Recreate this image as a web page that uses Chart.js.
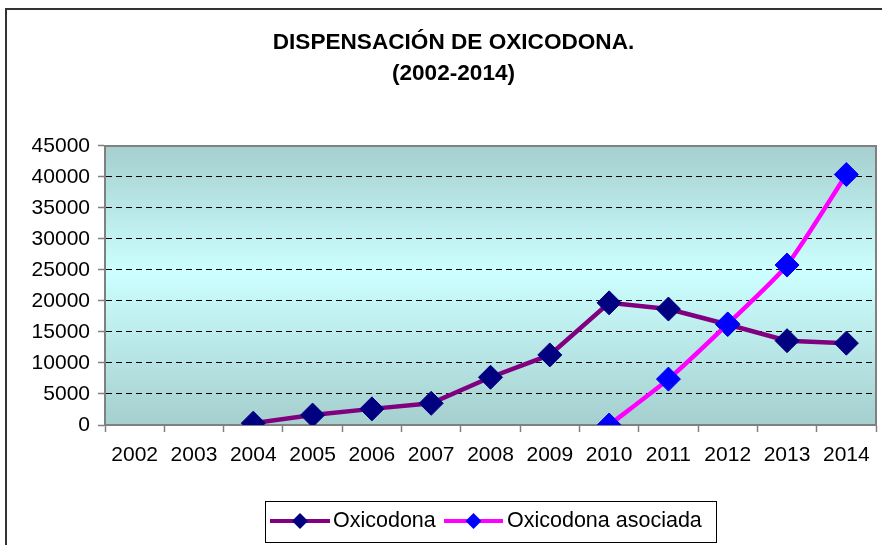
<!DOCTYPE html>
<html>
<head>
<meta charset="utf-8">
<script src="https://cdn.jsdelivr.net/npm/chart.js@4"></script>
<style>
  html, body { margin: 0; padding: 0; background: #fff; overflow: hidden; }
  #wrap { width: 882px; height: 545px; position: relative; overflow: hidden; }
  #chart { position: absolute; left: 0; top: 0; }
</style>
</head>
<body>
<div id="wrap"><canvas id="chart" width="889" height="545"></canvas></div>
<script>
const years = ['2002', '2003', '2004', '2005', '2006', '2007', '2008', '2009', '2010', '2011', '2012', '2013', '2014'];
const oxicodona = [null, null, 300, 1600, 2600, 3500, 7700, 11300, 19700, 18700, 16200, 13600, 13200];
const oxicodonaAsociada = [null, null, null, null, null, null, null, null, 0, 7400, 16300, 25800, 40400];
const yTicks = { min: 0, max: 45000, step: 5000 };
const titleLines = ['DISPENSACIÓN DE OXICODONA.', '(2002-2014)'];

const FONT = '"Liberation Sans", Arial, sans-serif';

// gradient background + plot frame + outer frame
const plotBackground = {
  id: 'plotBackground',
  beforeDraw(chart) {
    const { ctx, chartArea: a } = chart;
    ctx.save();
    const g = ctx.createLinearGradient(0, a.top, 0, a.bottom);
    g.addColorStop(0, '#a6cfcf');
    g.addColorStop(0.45, '#ccffff');
    g.addColorStop(1, '#a6cfcf');
    ctx.fillStyle = g;
    ctx.fillRect(a.left, a.top, a.right - a.left, a.bottom - a.top);
    ctx.restore();
  },
  afterDraw(chart) {
    const { ctx, chartArea: a } = chart;
    ctx.save();
    ctx.strokeStyle = '#808080';
    ctx.lineWidth = 2;
    ctx.beginPath();
    ctx.moveTo(a.left, a.top);
    ctx.lineTo(a.right, a.top);
    ctx.lineTo(a.right, a.bottom);
    ctx.stroke();

    // outer chart frame (only top and left are inside the picture)
    ctx.strokeStyle = '#333333';
    ctx.beginPath();
    ctx.moveTo(6, chart.height);
    ctx.lineTo(6, 9);
    ctx.lineTo(chart.width, 9);
    ctx.stroke();
    ctx.restore();
  }
};

// legend drawn as in the original: line + diamond, boxed
const boxedLegend = {
  id: 'boxedLegend',
  afterDraw(chart) {
    const { ctx } = chart;
    const box = { x: 265.5, y: 501.5, w: 451, h: 41 };
    const cy = 521;
    ctx.save();
    ctx.fillStyle = '#fff';
    ctx.fillRect(box.x, box.y, box.w, box.h);
    ctx.strokeStyle = '#000';
    ctx.lineWidth = 1;
    ctx.strokeRect(box.x, box.y, box.w, box.h);

    const items = [
      { ds: chart.data.datasets[0], x0: 270, x1: 330, tx: 333 },
      { ds: chart.data.datasets[1], x0: 444, x1: 503, tx: 507 }
    ];
    ctx.font = '21.5px ' + FONT;
    ctx.textBaseline = 'middle';
    items.forEach(it => {
      ctx.strokeStyle = it.ds.borderColor;
      ctx.lineWidth = 4;
      ctx.beginPath();
      ctx.moveTo(it.x0, cy);
      ctx.lineTo(it.x1, cy);
      ctx.stroke();
      const mx = (it.x0 + it.x1) / 2, r = 8;
      ctx.fillStyle = it.ds.pointBackgroundColor;
      ctx.beginPath();
      ctx.moveTo(mx, cy - r);
      ctx.lineTo(mx + r, cy);
      ctx.lineTo(mx, cy + r);
      ctx.lineTo(mx - r, cy);
      ctx.closePath();
      ctx.fill();
      ctx.fillStyle = '#000';
      ctx.fillText(it.ds.label, it.tx, cy);
    });
    ctx.restore();
  }
};

new Chart(document.getElementById('chart'), {
  type: 'line',
  data: {
    labels: years,
    datasets: [
      {
        label: 'Oxicodona',
        data: oxicodona,
        borderColor: '#800080',
        borderWidth: 4.5,
        pointStyle: 'rectRot',
        pointRadius: 12,
        pointBackgroundColor: '#000080',
        pointBorderColor: '#000080',
        pointBorderWidth: 1,
        tension: 0,
        order: 1
      },
      {
        label: 'Oxicodona asociada',
        data: oxicodonaAsociada,
        borderColor: '#ff00ff',
        borderWidth: 4.5,
        pointStyle: 'rectRot',
        pointRadius: 12,
        pointBackgroundColor: '#0000ff',
        pointBorderColor: '#0000ff',
        pointBorderWidth: 1,
        tension: 0.2,
        order: 0
      }
    ]
  },
  options: {
    responsive: false,
    animation: false,
    layout: { padding: { left: 31, right: 13, top: 0, bottom: 70 } },
    plugins: {
      legend: { display: false },
      tooltip: { enabled: false },
      title: {
        display: true,
        text: titleLines,
        color: '#000',
        font: { family: FONT, size: 22.6, weight: 'bold', lineHeight: 1.38 },
        padding: { top: 27, bottom: 56.6 }
      }
    },
    scales: {
      x: {
        offset: true,
        grid: {
          offset: true,
          drawOnChartArea: false,
          tickLength: 7,
          tickColor: '#808080',
          tickWidth: 1.5
        },
        border: { color: '#808080', width: 2 },
        ticks: {
          color: '#000',
          font: { family: FONT, size: 21 },
          padding: 11,
          maxRotation: 0,
          autoSkip: false
        },
        afterFit(scale) { scale.height = 50; }
      },
      y: {
        min: yTicks.min,
        max: yTicks.max,
        grid: {
          color: c => (c.tick && (c.tick.value === yTicks.min || c.tick.value === yTicks.max)) ? 'rgba(0,0,0,0)' : '#000',
          lineWidth: 1,
          tickLength: 7,
          tickColor: '#808080',
          tickWidth: 1.5
        },
        border: { color: '#808080', width: 2, dash: [6, 4] },
        ticks: {
          stepSize: yTicks.step,
          color: '#000',
          font: { family: FONT, size: 21 },
          padding: 8,
          callback: v => String(v)
        },
        afterFit(scale) { scale.width = 74; }
      }
    }
  },
  plugins: [plotBackground, boxedLegend]
});
</script>
</body>
</html>
